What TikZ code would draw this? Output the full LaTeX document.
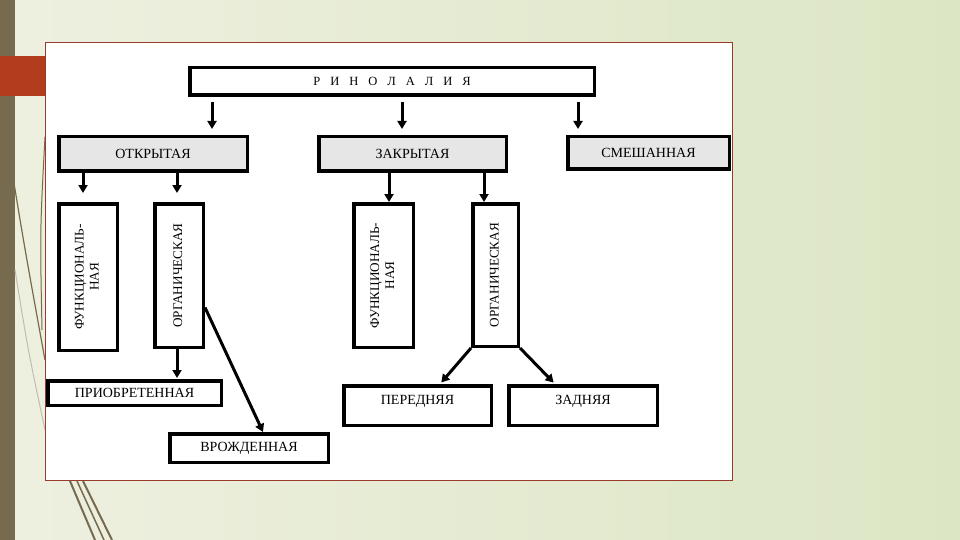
\documentclass[tikz,border=0pt]{standalone}
\usepackage{fontspec}
\setmainfont{Liberation Serif}
\usepackage{graphicx}
\usetikzlibrary{arrows.meta, calc}
\definecolor{slidel}{HTML}{EEF0E0}
\definecolor{slider}{HTML}{DCE6C4}
\definecolor{olivec}{HTML}{766B4E}
\definecolor{rustc}{HTML}{B33B1E}
\definecolor{framec}{HTML}{9A3A2A}
\definecolor{greyc}{HTML}{E6E6E6}
\newcommand{\gap}{\hspace{10pt}}
\newcommand{\vlabel}[1]{\rotatebox{90}{\begin{tabular}{@{}c@{}}#1\end{tabular}}}

\begin{document}
\begin{tikzpicture}[x=1pt, y=-1pt,
    box/.style={draw, line width=3.5pt, fill=white, inner sep=0pt,
      font=\fontsize{14}{16}\selectfont},
    headbox/.style={box, fill=greyc},
    vbox/.style={box, font=\fontsize{13.2}{15}\selectfont},
    arr/.style={line width=3pt, -{Triangle[length=8pt, width=9pt]}}]
    % slide behind the chart
    \useasboundingbox (0,0) rectangle (960,540);
    \shade[left color=slidel, right color=slider] (0,0) rectangle (960,540);
    \fill[olivec] (0,0) rectangle (15,540);
    \fill[rustc] (0,56) rectangle (45,96);
    \draw[olivec, line width=1.2pt] (13,177) .. controls (25,250) .. (45,360);
    \draw[olivec, line width=1pt] (45,137) .. controls (40,230) .. (42,330);
    \draw[olivec!45, line width=1pt] (15,270) .. controls (28,350) .. (45,430);
    \draw[olivec, line width=2pt] (70,481) -- (95,540);
    \draw[olivec, line width=1.5pt] (77,481) -- (104,540);
    \draw[olivec, line width=2pt] (83,481) -- (112,540);
    \draw[framec, line width=0.8pt, fill=white] (45,42) rectangle (732,480);

    % boxes
    \node[box, minimum width=404.5pt, minimum height=27.5pt,
          font=\fontsize{12.5}{14}\selectfont] (rin) at (392,81.5)
      {Р\gap И\gap Н\gap О\gap Л\gap А\gap Л\gap И\gap Я};
    \node[headbox, minimum width=188.5pt, minimum height=34.5pt] (open) at (153,154) {ОТКРЫТАЯ};
    \node[headbox, minimum width=187.5pt, minimum height=34.5pt] (closed) at (412.5,154) {ЗАКРЫТАЯ};
    \node[headbox, minimum width=161.5pt, minimum height=32.5pt] (mixed) at (648.5,153) {СМЕШАННАЯ};
    \node[vbox, minimum width=58.5pt, minimum height=146.5pt] (ofunc) at (88,277)
      {\vlabel{ФУНКЦИОНАЛЬ-\\НАЯ}};
    \node[vbox, minimum width=48.5pt, minimum height=143.5pt] (oorg) at (179,275.5)
      {\vlabel{ОРГАНИЧЕСКАЯ}};
    \node[vbox, minimum width=59.5pt, minimum height=143.5pt] (cfunc) at (383.5,275.5)
      {\vlabel{ФУНКЦИОНАЛЬ-\\НАЯ}};
    \node[vbox, minimum width=45.5pt, minimum height=142.5pt] (corg) at (495.5,275)
      {\vlabel{ОРГАНИЧЕСКАЯ}};
    \node[box, minimum width=173.5pt, minimum height=24.5pt] (acq) at (134.5,393) {ПРИОБРЕТЕННАЯ};
    \node[box, minimum width=158.5pt, minimum height=28.5pt] (congen) at (249,448) {ВРОЖДЕННАЯ};
    \node[box, minimum width=147.5pt, minimum height=39.5pt, text depth=12pt] (front) at (417.5,405.5) {ПЕРЕДНЯЯ};
    \node[box, minimum width=148.5pt, minimum height=39.5pt, text depth=12pt] (back) at (583,405.5) {ЗАДНЯЯ};

    % arrows
    \foreach \n/\dx in {open/59, closed/-10.5, mixed/-70.5}
      \draw[arr, shorten <=5pt, shorten >=6pt]
        ([xshift=\dx pt]\n.north |- rin.south) -- ([xshift=\dx pt]\n.north);
    \foreach \n/\dx in {ofunc/-5, oorg/-2}
      \draw[arr, shorten >=9pt]
        ([xshift=\dx pt]\n.north |- open.south) -- ([xshift=\dx pt]\n.north);
    \foreach \n/\dx in {cfunc/5.5, corg/-11.5}
      \draw[arr] ([xshift=\dx pt]\n.north |- closed.south) -- ([xshift=\dx pt]\n.north);
    \draw[arr, shorten >=1pt] ([xshift=-2pt]oorg.south) -- ([xshift=-2pt]oorg.south |- acq.north);
    \draw[arr] ([yshift=-32pt]oorg.east) -- ([xshift=14pt]congen.north);
    \draw[arr, shorten >=2pt] (corg.south west) -- ([xshift=22.5pt]front.north);
    \draw[arr, shorten >=2pt] (corg.south east) -- ([xshift=-28pt]back.north);
\end{tikzpicture}
\end{document}
